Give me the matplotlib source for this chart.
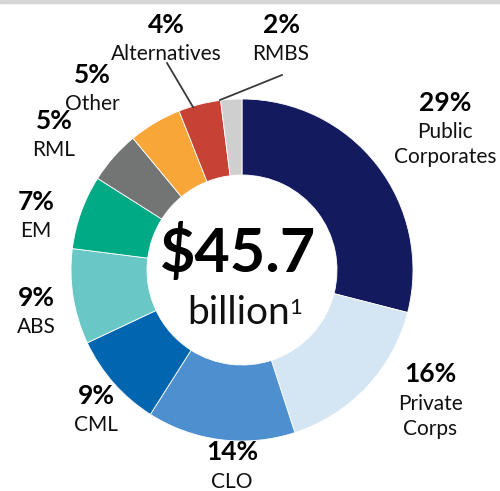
import matplotlib.pyplot as plt
from matplotlib.patches import Rectangle

# portfolio mix (%), clockwise from 12 o'clock
sectors = ["Public\nCorporates", "Private\nCorps", "CLO", "CML", "ABS",
           "EM", "RML", "Other", "Alternatives", "RMBS"]
shares = [29, 16, 14, 9, 9, 7, 5, 5, 4, 2]
colors = ["#131a5e", "#d4e6f4", "#4e8fcf", "#0166af", "#69c8c6",
          "#00aa84", "#737474", "#f8a638", "#c54235", "#cfcfcf"]
total_label = "$45.7"

# label anchor points (pixels from top-left, centre of the % text)
label_pos = [(445, 103), (430, 375), (232, 453), (96, 396), (36, 298),
             (36, 202), (54, 121), (92, 75), (166, 25), (281, 25)]

W, H = 500, 491
fig = plt.figure(figsize=(5, 4.91), dpi=100)
ax = fig.add_axes([0, 0, 1, 1])

cx, cy, r = 242, H - 270, 171
ax.pie(shares, colors=colors, startangle=90, counterclock=False,
       center=(cx, cy), radius=r, frame=True,
       wedgeprops=dict(width=r - 95, linewidth=0.6, edgecolor="white"))
ax.set_xlim(0, W)
ax.set_ylim(0, H)
ax.set_aspect("equal")
ax.axis("off")

fam = ["Lato", "DejaVu Sans"]
for (x, y), name, pct in zip(label_pos, sectors, shares):
    ax.text(x, H - (y + 7.5), f"{pct}%", ha="center", va="baseline",
            fontsize=19, fontweight="bold", family=fam)
    for i, line in enumerate(name.split("\n")):
        ax.text(x, H - (y + 35 + 25 * i), line, ha="center", va="baseline",
                fontsize=15, color="#111111", family=fam)

# leader lines for the thin slices
ax.plot([167, 193], [H - 63, H - 107], color="#3a3a3a", lw=1.3)
ax.plot([282, 220], [H - 75, H - 100], color="#3a3a3a", lw=1.3)

ax.text(cx - 4, H - 272, total_label, ha="center", va="baseline", fontsize=44,
        fontweight="bold", family=fam)
ax.text(cx - 3, H - 324, "billion", ha="center", va="baseline", fontsize=28,
        color="#111111", family=fam)
ax.text(296, H - 314, "1", ha="center", va="baseline", fontsize=16,
        color="#111111", family=fam)

fig.patches.append(Rectangle((0, 1 - 3 / H), 1, 3 / H, transform=fig.transFigure,
                             color="#d6d6d6", zorder=0))

fig.savefig("out.png", dpi=100)
